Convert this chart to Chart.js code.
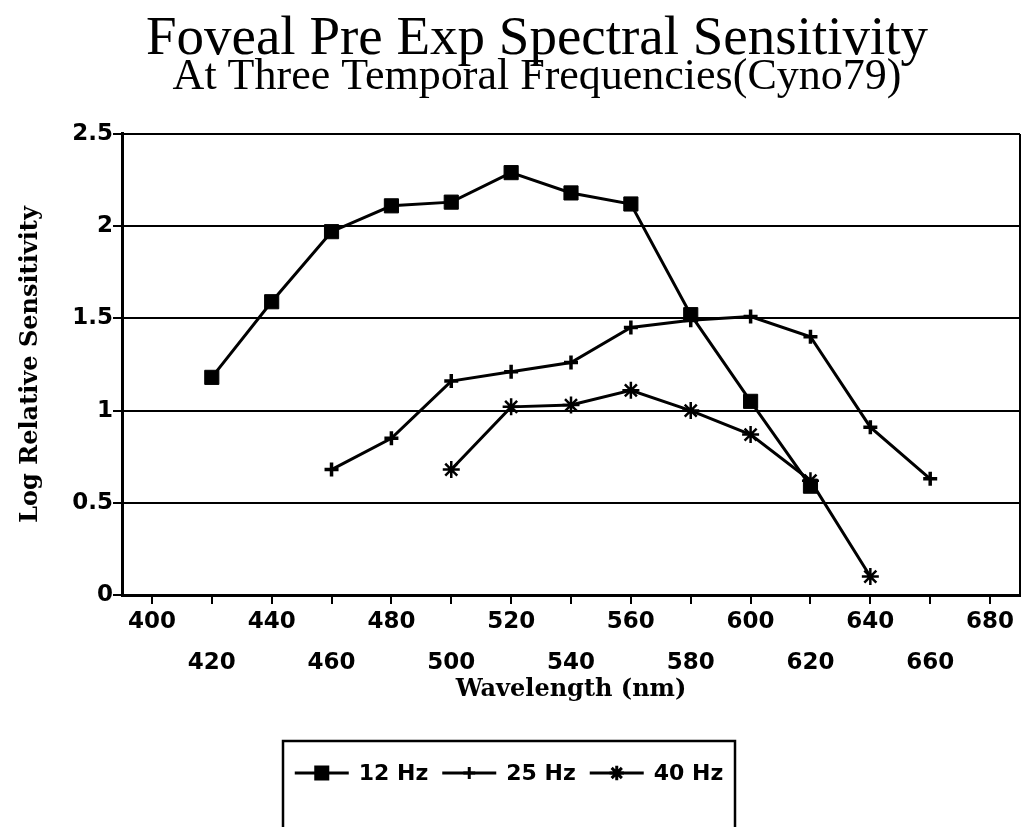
<!DOCTYPE html>
<html>
<head>
<meta charset="utf-8">
<title>Foveal Pre Exp Spectral Sensitivity</title>
<script src="https://cdn.jsdelivr.net/npm/chart.js@4.4.1/dist/chart.umd.min.js"></script>
<style>
  html, body { margin: 0; padding: 0; background: #fff; }
  #wrap { width: 1022px; height: 827px; }
</style>
</head>
<body>
<div id="wrap"><canvas id="spectralChart" width="1022" height="827"></canvas></div>
<script>
// x axis ticks (nm), labels alternate between two rows
const xTicks = [400, 420, 440, 460, 480, 500, 520, 540, 560, 580, 600, 620, 640, 660, 680];
const yTicks = [0, 0.5, 1, 1.5, 2, 2.5];

// 12 Hz
const wl12 = [420, 440, 460, 480, 500, 520, 540, 560, 580, 600, 620];
const sens12 = [1.18, 1.59, 1.97, 2.11, 2.13, 2.29, 2.18, 2.12, 1.52, 1.05, 0.59];
// 25 Hz
const wl25 = [460, 480, 500, 520, 540, 560, 580, 600, 620, 640, 660];
const sens25 = [0.68, 0.85, 1.16, 1.21, 1.26, 1.45, 1.49, 1.51, 1.40, 0.91, 0.63];
// 40 Hz
const wl40 = [500, 520, 540, 560, 580, 600, 620, 640];
const sens40 = [0.68, 1.02, 1.03, 1.11, 1.00, 0.87, 0.62, 0.10];

const pairs = (xs, ys) => xs.map((x, i) => ({ x: x, y: ys[i] }));

Chart.defaults.font.family = '"DejaVu Sans", sans-serif';
Chart.defaults.color = '#000';

// shift the title block so it sits where the original had it
const titleShift = {
  id: 'titleShift',
  afterLayout(chart) {
    chart.boxes.forEach(b => {
      if (b.position === 'top' && b.options && b.options.text !== undefined) {
        b.left = 54;
      }
    });
  }
};

// right edge of the plot frame
const frame = {
  id: 'frame',
  beforeDatasetsDraw(chart) {
    const { ctx, chartArea: a } = chart;
    ctx.save();
    ctx.strokeStyle = '#000';
    ctx.lineWidth = 2;
    ctx.beginPath();
    ctx.moveTo(a.right, a.top);
    ctx.lineTo(a.right, a.bottom);
    ctx.stroke();
    ctx.restore();
  }
};

// boxed legend: line + marker + label, like the original
const boxLegend = {
  id: 'boxLegend',
  afterDraw(chart) {
    const ctx = chart.ctx;
    const box = { left: 283, top: 741, right: 735, bottom: 840 };
    const midY = 773;
    ctx.save();
    ctx.strokeStyle = '#000';
    ctx.lineWidth = 2.5;
    ctx.strokeRect(box.left, box.top, box.right - box.left, box.bottom - box.top);

    ctx.font = 'bold 22px "DejaVu Sans"';
    ctx.textBaseline = 'middle';
    ctx.fillStyle = '#000';
    const lineLen = 54, gapText = 10, gapItem = 14;
    const items = chart.data.datasets.map(ds => ({ ds: ds, w: ctx.measureText(ds.label).width }));
    const total = items.reduce((s, it) => s + lineLen + gapText + it.w, 0) + gapItem * (items.length - 1);
    let x = (box.left + box.right) / 2 - total / 2;
    items.forEach(it => {
      const ds = it.ds;
      ctx.strokeStyle = '#000';
      ctx.lineWidth = ds.borderWidth;
      ctx.beginPath();
      ctx.moveTo(x, midY);
      ctx.lineTo(x + lineLen, midY);
      ctx.stroke();
      Chart.helpers.drawPoint(ctx, {
        pointStyle: ds.pointStyle,
        radius: ds.pointRadius * 0.85,
        borderWidth: ds.pointBorderWidth,
        rotation: 0
      }, x + lineLen / 2, midY);
      ctx.fillText(ds.label, x + lineLen + gapText, midY + 1);
      x += lineLen + gapText + it.w + gapItem;
    });
    ctx.restore();
  }
};

const ctx = document.getElementById('spectralChart');
new Chart(ctx, {
  type: 'line',
  data: {
    datasets: [
      {
        label: '12 Hz',
        data: pairs(wl12, sens12),
        borderColor: '#000',
        backgroundColor: '#000',
        borderWidth: 3,
        pointStyle: 'rect',
        pointRadius: 10,
        pointBorderWidth: 1,
        pointBackgroundColor: '#000',
        pointBorderColor: '#000'
      },
      {
        label: '25 Hz',
        data: pairs(wl25, sens25),
        borderColor: '#000',
        backgroundColor: '#000',
        borderWidth: 3,
        pointStyle: 'cross',
        pointRadius: 7,
        pointBorderWidth: 3.5,
        pointBorderColor: '#000'
      },
      {
        label: '40 Hz',
        data: pairs(wl40, sens40),
        borderColor: '#000',
        backgroundColor: '#000',
        borderWidth: 3,
        pointStyle: 'star',
        pointRadius: 8.5,
        pointBorderWidth: 2.5,
        pointBorderColor: '#000'
      }
    ]
  },
  options: {
    responsive: false,
    animation: false,
    layout: { autoPadding: false, padding: { left: 0, right: 2, top: 0, bottom: 112 } },
    plugins: {
      legend: { display: false },
      tooltip: { enabled: false },
      title: {
        display: true,
        text: 'Foveal Pre Exp Spectral Sensitivity',
        color: '#000',
        font: { family: '"Liberation Serif", serif', size: 55, weight: 'normal', lineHeight: 0.6 },
        padding: { top: 23.5, bottom: 0 }
      },
      subtitle: {
        display: true,
        text: 'At Three Temporal Frequencies(Cyno79)',
        color: '#000',
        font: { family: '"Liberation Serif", serif', size: 44, weight: 'normal', lineHeight: 0.6 },
        padding: { top: 8, bottom: 43 }
      }
    },
    scales: {
      x: {
        type: 'linear',
        min: 390,
        max: 690,
        afterBuildTicks: axis => { axis.ticks = xTicks.map(v => ({ value: v })); },
        afterFit: axis => { axis.height = 120; axis.paddingLeft = 0; axis.paddingRight = 0; },
        border: { display: true, color: '#000', width: 3 },
        grid: { drawOnChartArea: false, drawTicks: true, tickLength: 9, color: '#000', lineWidth: 2 },
        ticks: {
          autoSkip: false,
          maxRotation: 0,
          padding: -3,
          font: { size: 23, weight: 'bold', lineHeight: 1.8 },
          callback: (v, i) => (i % 2 === 0 ? [String(v)] : ['', String(v)])
        },
        title: {
          display: true,
          text: 'Wavelength (nm)',
          font: { family: '"DejaVu Serif", serif', size: 24, weight: 'bold', lineHeight: 1.2 },
          padding: { top: 0, bottom: 11 }
        }
      },
      y: {
        min: 0,
        max: 2.5,
        afterBuildTicks: axis => { axis.ticks = yTicks.map(v => ({ value: v })); },
        afterFit: axis => { axis.width = 122; },
        border: { display: true, color: '#000', width: 3 },
        grid: { drawTicks: true, tickLength: 9, color: '#000', lineWidth: 2 },
        ticks: {
          padding: 0,
          font: { size: 23, weight: 'bold' },
          callback: v => String(v)
        },
        title: {
          display: true,
          text: 'Log Relative Sensitivity',
          font: { family: '"DejaVu Serif", serif', size: 24, weight: 'bold', lineHeight: 1.2 },
          padding: { top: 16, bottom: 0 }
        }
      }
    }
  },
  plugins: [titleShift, frame, boxLegend]
});
</script>
</body>
</html>
